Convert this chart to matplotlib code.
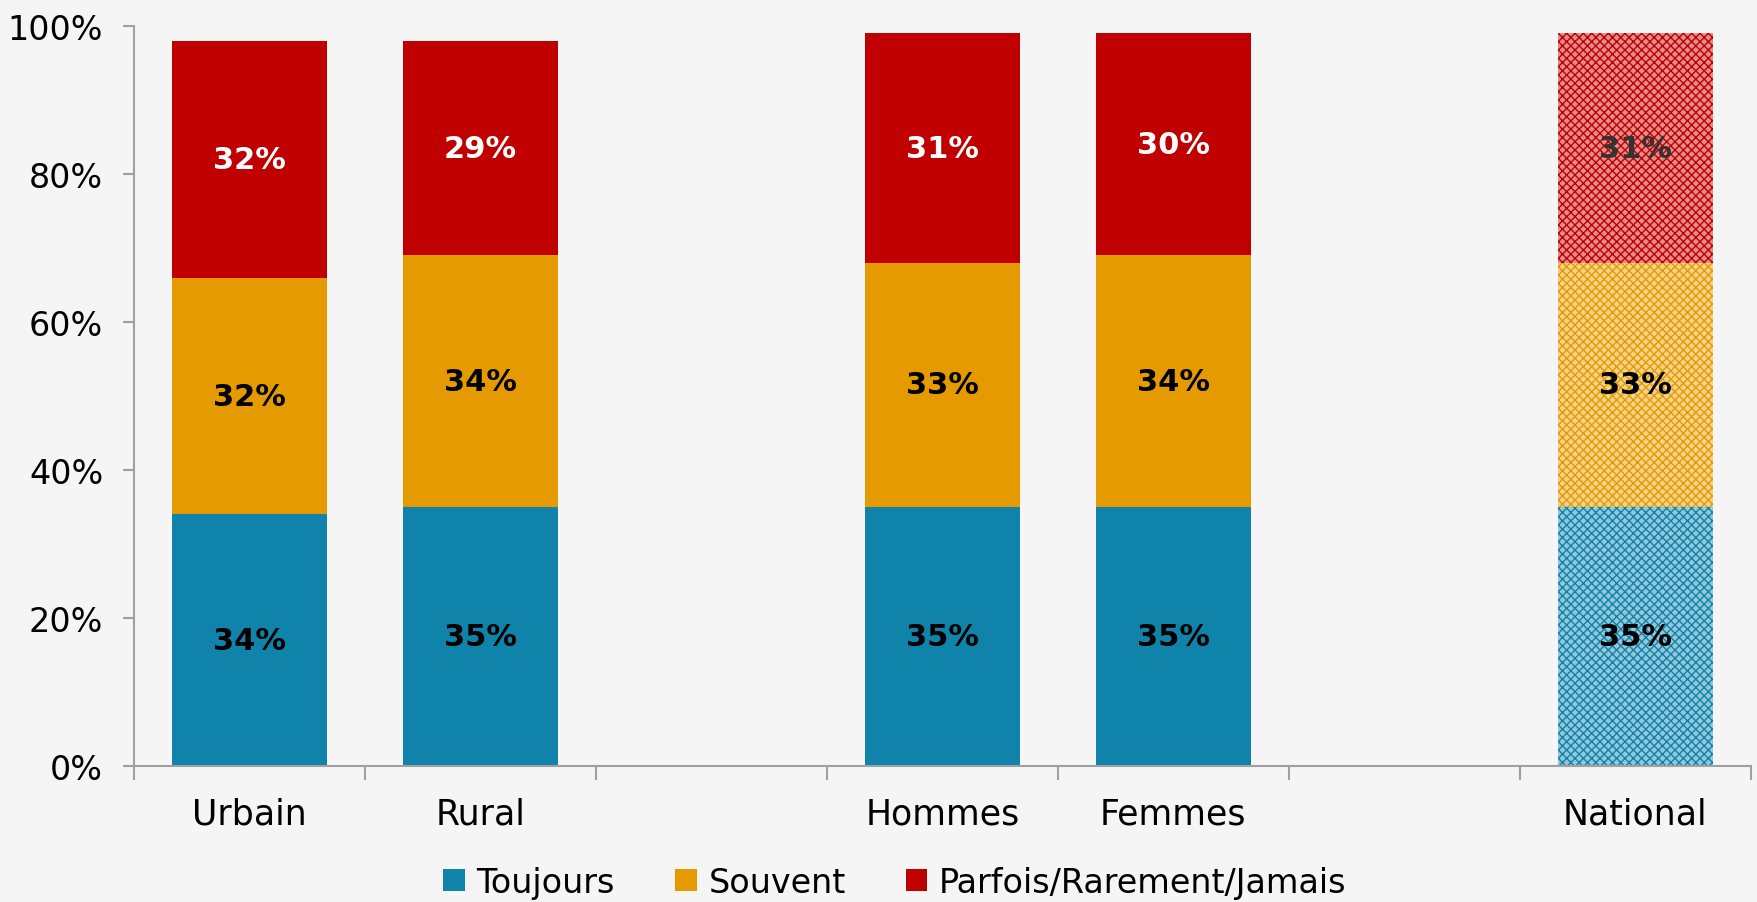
import numpy as np
import matplotlib
matplotlib.use("Agg")
import matplotlib.pyplot as plt
from matplotlib.patches import Patch
import matplotlib.colors as mcolors

# Data
categories = ["Urbain", "Rural", "Hommes", "Femmes", "National"]
positions = [0, 1, 3, 4, 6]          # gaps between the groups
toujours = [34, 35, 35, 35, 35]
souvent = [32, 34, 33, 34, 33]
parfois = [32, 29, 31, 30, 31]
series_names = ["Toujours", "Souvent", "Parfois/Rarement/Jamais"]
colors = ["#1083ab", "#e59b00", "#c00000"]
hatched = [False, False, False, False, True]

plt.rcParams["hatch.linewidth"] = 1.0
bg = "#f5f5f5"

fig = plt.figure(figsize=(17.58, 9.03), dpi=100, facecolor=bg)
ax = fig.add_axes([0.0761, 0.1506, 0.9198, 0.8194])
ax.set_facecolor(bg)


def lighten(c, amount=0.5):
    r, g, b = mcolors.to_rgb(c)
    return (r + (1 - r) * amount, g + (1 - g) * amount, b + (1 - b) * amount)


bottoms = np.zeros(len(categories))
for s, (name, vals, col) in enumerate(zip(series_names, [toujours, souvent, parfois], colors)):
    for i, (x, v) in enumerate(zip(positions, vals)):
        if hatched[i]:
            ax.bar(x, v, 0.67, bottom=bottoms[i], facecolor=lighten(col, 0.55),
                   edgecolor=col, hatch="xxxx", linewidth=0, zorder=2)
        else:
            ax.bar(x, v, 0.67, bottom=bottoms[i], color=col, linewidth=0, zorder=2)
        if s == 2:
            tcol = "#333333" if hatched[i] else "white"
        else:
            tcol = "black"
        ax.text(x, bottoms[i] + v / 2, f"{v}%", ha="center", va="center",
                fontsize=22, fontweight="bold", color=tcol, zorder=3)
    bottoms += np.array(vals)

ax.set_xlim(-0.5, 6.5)
ax.set_ylim(0, 100)
ax.set_yticks(range(0, 101, 20))
ax.set_yticklabels([f"{t}%" for t in range(0, 101, 20)], fontsize=24)
ax.set_xticks(positions)
ax.set_xticklabels(categories, fontsize=25)
ax.set_xticks(np.arange(-0.5, 7, 1), minor=True)
ax.tick_params(axis="x", which="major", length=0, pad=22)
ax.tick_params(axis="x", which="minor", length=10, width=1.5, color="#a0a0a0")
ax.tick_params(axis="y", length=8, width=1.5, color="#a0a0a0", pad=14)

for sp in ["top", "right"]:
    ax.spines[sp].set_visible(False)
for sp in ["left", "bottom"]:
    ax.spines[sp].set_color("#a0a0a0")
    ax.spines[sp].set_linewidth(1.5)

handles = [Patch(facecolor=c, edgecolor="none") for c in colors]
fig.legend(handles, series_names, loc="center", bbox_to_anchor=(0.509, 0.022),
           ncol=3, frameon=False, fontsize=24, handlelength=0.65, handleheight=0.65,
           handletextpad=0.35, columnspacing=1.8)

fig.savefig("out.png", dpi=100, facecolor=bg)
